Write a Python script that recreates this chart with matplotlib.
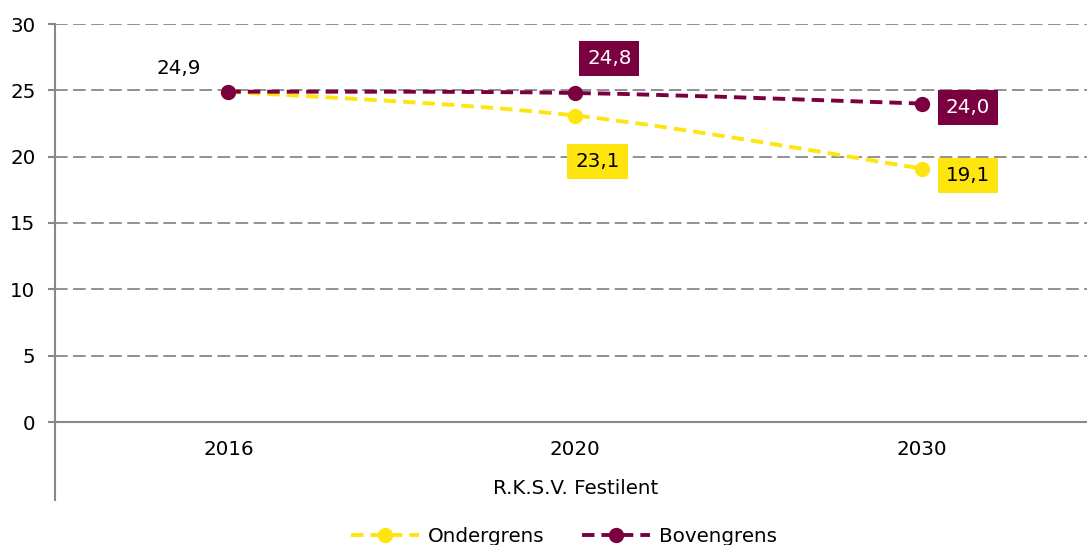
import matplotlib
matplotlib.use('Agg')
import matplotlib.pyplot as plt
from matplotlib.path import Path
from matplotlib.patches import PathPatch
from matplotlib.lines import Line2D

# data
jaren = ['2016', '2020', '2030']
ondergrens = [24.9, 23.1, 19.1]
bovengrens = [24.9, 24.8, 24.0]
groep = 'R.K.S.V. Festilent'

geel = '#FFE50F'
bordeaux = '#7A0040'
grijs = '#888888'

plt.rcParams['font.family'] = ['DejaVu Sans']
fs = 14.3

fig = plt.figure(figsize=(10.87, 5.45), dpi=100)
ax = fig.add_axes([55 / 1087, 123 / 545, 1 - 55 / 1087, 398 / 545])

x = list(range(len(jaren)))


def smooth_path(xs, ys):
    # Catmull-Rom achtige bezier, zoals Excel "vloeiende lijn"
    pts = list(zip(xs, ys))
    verts = [pts[0]]
    codes = [Path.MOVETO]
    n = len(pts)
    for i in range(n - 1):
        p0 = pts[i - 1] if i > 0 else pts[i]
        p1 = pts[i]
        p2 = pts[i + 1]
        p3 = pts[i + 2] if i + 2 < n else pts[i + 1]
        c1 = (p1[0] + (p2[0] - p0[0]) / 6, p1[1] + (p2[1] - p0[1]) / 6)
        c2 = (p2[0] - (p3[0] - p1[0]) / 6, p2[1] - (p3[1] - p1[1]) / 6)
        verts += [c1, c2, p2]
        codes += [Path.CURVE4] * 3
    return Path(verts, codes)


lw = 2.8
dash = (0, (3.2, 1.8))
for reeks, kleur in [(ondergrens, geel), (bovengrens, bordeaux)]:
    patch = PathPatch(smooth_path(x, reeks), fill=False, edgecolor=kleur,
                      linewidth=lw, linestyle=dash, capstyle='butt', zorder=3)
    ax.add_patch(patch)
    ax.plot(x, reeks, 'o', color=kleur, markersize=10, zorder=4)

# labels
ax.annotate('24,9', (x[0], bovengrens[0]), xytext=(-36, 17), textcoords='offset points',
            ha='center', va='center', fontsize=fs, color='black')
box_b = dict(boxstyle='square,pad=0.4', facecolor=bordeaux, edgecolor='none')
box_o = dict(boxstyle='square,pad=0.4', facecolor=geel, edgecolor='none')
ax.annotate('24,8', (x[1], bovengrens[1]), xytext=(24.5, 24.6), textcoords='offset points',
            ha='center', va='center', fontsize=fs, color='white', bbox=box_b, zorder=5)
ax.annotate('24,0', (x[2], bovengrens[2]), xytext=(33, -2.5), textcoords='offset points',
            ha='center', va='center', fontsize=fs, color='white', bbox=box_b, zorder=5)
ax.annotate('23,1', (x[1], ondergrens[1]), xytext=(16, -33), textcoords='offset points',
            ha='center', va='center', fontsize=fs, color='black', bbox=box_o, zorder=5)
ax.annotate('19,1', (x[2], ondergrens[2]), xytext=(33, -5), textcoords='offset points',
            ha='center', va='center', fontsize=fs, color='black', bbox=box_o, zorder=5)

# assen
ax.set_xlim(-0.5, 2.4755)
ax.set_ylim(0, 30)
ax.set_yticks(range(0, 31, 5))
ax.set_xticks(x)
ax.set_xticklabels(jaren)
ax.tick_params(axis='y', length=5, width=1.5, color=grijs, pad=9, labelsize=fs)
ax.tick_params(axis='x', length=0, pad=13, labelsize=fs)
for s in ['top', 'right']:
    ax.spines[s].set_visible(False)
ax.spines['bottom'].set_color(grijs)
ax.spines['bottom'].set_linewidth(1.5)
ax.spines['left'].set_visible(False)
ax.yaxis.grid(True, color=grijs, linestyle=(0, (7, 3)), linewidth=1.3)
ax.set_axisbelow(True)

# verticale as loopt door tot onder de groepsnaam
ax.add_line(Line2D([-0.5, -0.5], [-5.86, 30], color=grijs, linewidth=1.5, clip_on=False,
                   transform=ax.transData))
ax.text(1, -5.0, groep, ha='center', va='center', fontsize=fs)

handles = [Line2D([], [], color=geel, linewidth=lw, linestyle=dash, marker='o', markersize=10),
           Line2D([], [], color=bordeaux, linewidth=lw, linestyle=dash, marker='o', markersize=10)]
fig.legend(handles, ['Ondergrens', 'Bovengrens'], loc='center', bbox_to_anchor=(564 / 1087, 9 / 545),
           ncol=2, frameon=False, fontsize=fs, handlelength=3.4, handletextpad=0.45,
           columnspacing=1.9, numpoints=1)

fig.savefig('out.png', dpi=100)
